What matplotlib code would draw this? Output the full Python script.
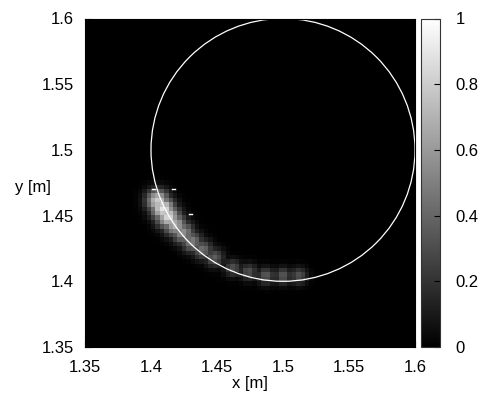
import numpy as np
import matplotlib
matplotlib.use("Agg")
import matplotlib.pyplot as plt
from matplotlib.patches import Circle

plt.rcParams['font.family'] = ['Liberation Sans', 'DejaVu Sans']
plt.rcParams['font.size'] = 12

# Bright spots (x [m], y [m], intensity, spread [m])
blob_x = [1.405, 1.409, 1.413, 1.418, 1.424, 1.431, 1.439, 1.448, 1.462, 1.474, 1.487, 1.500, 1.512]
blob_y = [1.461, 1.455, 1.449, 1.443, 1.437, 1.430, 1.424, 1.418, 1.410, 1.407, 1.404, 1.404, 1.404]
blob_amp = [0.80, 0.90, 0.85, 0.70, 0.58, 0.50, 0.43, 0.37, 0.32, 0.32, 0.35, 0.35, 0.32]
blob_sig = [0.0060, 0.0062, 0.0062, 0.0060, 0.0058, 0.0055, 0.0052, 0.0050, 0.0045, 0.0045, 0.0045, 0.0045, 0.0045]

# small white marks
mark_x = [1.4017, 1.4169, 1.4298]
mark_y = [1.4704, 1.4704, 1.4514]

circle_center = (1.5, 1.5)
circle_radius = 0.1

x_ticks = [1.35, 1.4, 1.45, 1.5, 1.55, 1.6]
y_ticks = [1.35, 1.4, 1.45, 1.5, 1.55, 1.6]
cb_ticks = [0, 0.2, 0.4, 0.6, 0.8, 1]

# grid
n = 75
edges = np.linspace(1.35, 1.6, n + 1)
cent = 0.5 * (edges[:-1] + edges[1:])
X, Y = np.meshgrid(cent, cent)
Z = np.zeros_like(X)
for bx, by, a, s in zip(blob_x, blob_y, blob_amp, blob_sig):
    Z = np.maximum(Z, a * np.exp(-((X - bx) ** 2 + (Y - by) ** 2) / (2 * s ** 2)))

fig = plt.figure(figsize=(4.8, 3.96), dpi=100)
ax = fig.add_axes([85 / 480, 1 - 347 / 396, 330 / 480, 328.5 / 396])
cax = fig.add_axes([421 / 480, 1 - 347 / 396, 19 / 480, 328.5 / 396])

im = ax.imshow(Z, cmap='gray', vmin=0, vmax=1, origin='lower',
               extent=[1.35, 1.6, 1.35, 1.6], interpolation='nearest', aspect='auto')
ax.add_patch(Circle(circle_center, circle_radius, fill=False, ec='white', lw=0.9))
for mx, my in zip(mark_x, mark_y):
    ax.plot([mx - 0.001, mx + 0.001], [my, my], color='white', lw=1.0)

ax.set_xlim(1.35, 1.6)
ax.set_ylim(1.35, 1.6)
ax.set_xticks(x_ticks)
ax.set_yticks(y_ticks)
ax.set_xticklabels(['1.35', '1.4', '1.45', '1.5', '1.55', '1.6'])
ax.set_yticklabels(['1.35', '1.4', '1.45', '1.5', '1.55', '1.6'])
ax.tick_params(direction='in', length=4, color='black', pad=9)
ax.tick_params(axis='y', pad=8)
ax.set_xlabel('x [m]', labelpad=1)
ax.set_ylabel('y [m]', rotation=0, ha='center', va='center')
ax.yaxis.set_label_coords(-0.157, 0.485)

cb = fig.colorbar(im, cax=cax, ticks=cb_ticks)
cb.ax.set_yticklabels(['0', '0.2', '0.4', '0.6', '0.8', '1'])
cb.ax.tick_params(direction='in', length=4, color='black', pad=11)
cb.outline.set_edgecolor('#333333')

fig.savefig('out.png', dpi=100)
